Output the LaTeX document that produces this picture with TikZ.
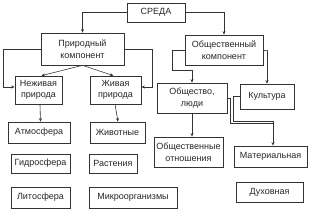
\documentclass[tikz,border=0pt]{standalone}
\usepackage{fontspec}
\setmainfont{Liberation Sans}
\usetikzlibrary{arrows.meta}
\begin{document}
\begin{tikzpicture}[x=1pt,y=-1pt,
  box/.style={draw=black!80,line width=0.7pt,inner sep=0pt,align=center,
    font=\fontsize{9}{11.5}\selectfont,text=black!85},
  arr/.style={draw=black!80,line width=0.6pt,-{Stealth[length=3.5pt,width=3pt]}},
  ln/.style={draw=black!80,line width=0.6pt}]
\useasboundingbox (0,0) rectangle (309,211);
\node[box,minimum width=58pt,minimum height=19pt] (sreda) at (156,12.5) {СРЕДА};
\node[box,minimum width=83pt,minimum height=32pt] (prir) at (82.5,49) {Природный\\компонент};
\node[box,minimum width=78pt,minimum height=30pt] (obsh) at (224,50) {Общественный\\компонент};
\node[box,minimum width=47pt,minimum height=28pt] (nezh) at (38.5,90) {Неживая\\природа};
\node[box,minimum width=51pt,minimum height=28pt] (zhiv) at (115.5,90) {Живая\\природа};
\node[box,minimum width=70pt,minimum height=30pt] (obshl) at (192,98) {Общество,\\люди};
\node[box,minimum width=54pt,minimum height=25pt] (kult) at (267,96.5) {Культура};
\node[box,minimum width=62pt,minimum height=21pt] (atm) at (39,132.5) {Атмосфера};
\node[box,minimum width=55pt,minimum height=21pt] (zhivotn) at (117.5,132.5) {Животные};
\node[box,minimum width=59pt,minimum height=19pt] (gidro) at (40.5,163.5) {Гидросфера};
\node[box,minimum width=48pt,minimum height=19pt] (rast) at (113,163.5) {Растения};
\node[box,minimum width=59pt,minimum height=21pt] (lito) at (40.5,197.5) {Литосфера};
\node[box,minimum width=88pt,minimum height=21pt] (mikro) at (133,197.5) {Микроорганизмы};
\node[box,minimum width=69pt,minimum height=30pt] (obshotn) at (188.5,152) {Общественные\\отношения};
\node[box,minimum width=73pt,minimum height=21pt] (mater) at (270.5,156.5) {Материальная};
\node[box,minimum width=67pt,minimum height=20pt] (dukh) at (269.5,192) {Духовная};
% connectors
\draw[arr] (sreda.west) -| (prir.north);
\draw[arr] (sreda.east) -| (obsh.north);
\draw[arr] (prir.west) -- ++(-37,0) |- ([yshift=3pt]nezh.west);
\draw[arr] (prir.east) -- ++(28,0) |- ([yshift=3pt]zhiv.east);
\draw[arr] (prir.south) -- ([xshift=3pt]nezh.north);
\draw[arr] (prir.south) -- ([xshift=-2pt]zhiv.north);
\draw[arr] (obsh.west) -- ++(-12,0) -- ++(0,20) -| (obshl.north);
\draw[arr] (obsh.east) -- ++(4,0) -| (kult.north);
\draw[arr] (obshl.south) -- (obshl.south |- obshotn.north);
\draw[ln] (obshl.east) -- ++(3,0) -- ++(0,25) -- ++(43,0);
\coordinate (mj) at ([xshift=2.5pt]mater.north |- 0,121);
\draw[ln] (kult.west) -- ++(-6,0) |- (mj);
\draw[arr] (mj) -- ([xshift=2.5pt]mater.north);
\draw[arr] ([xshift=1.5pt]nezh.south) -- ([xshift=1.5pt]atm.north);
\draw[arr] ([xshift=-0.5pt]zhiv.south) -- ([xshift=0.5pt]zhivotn.north);
\end{tikzpicture}
\end{document}
